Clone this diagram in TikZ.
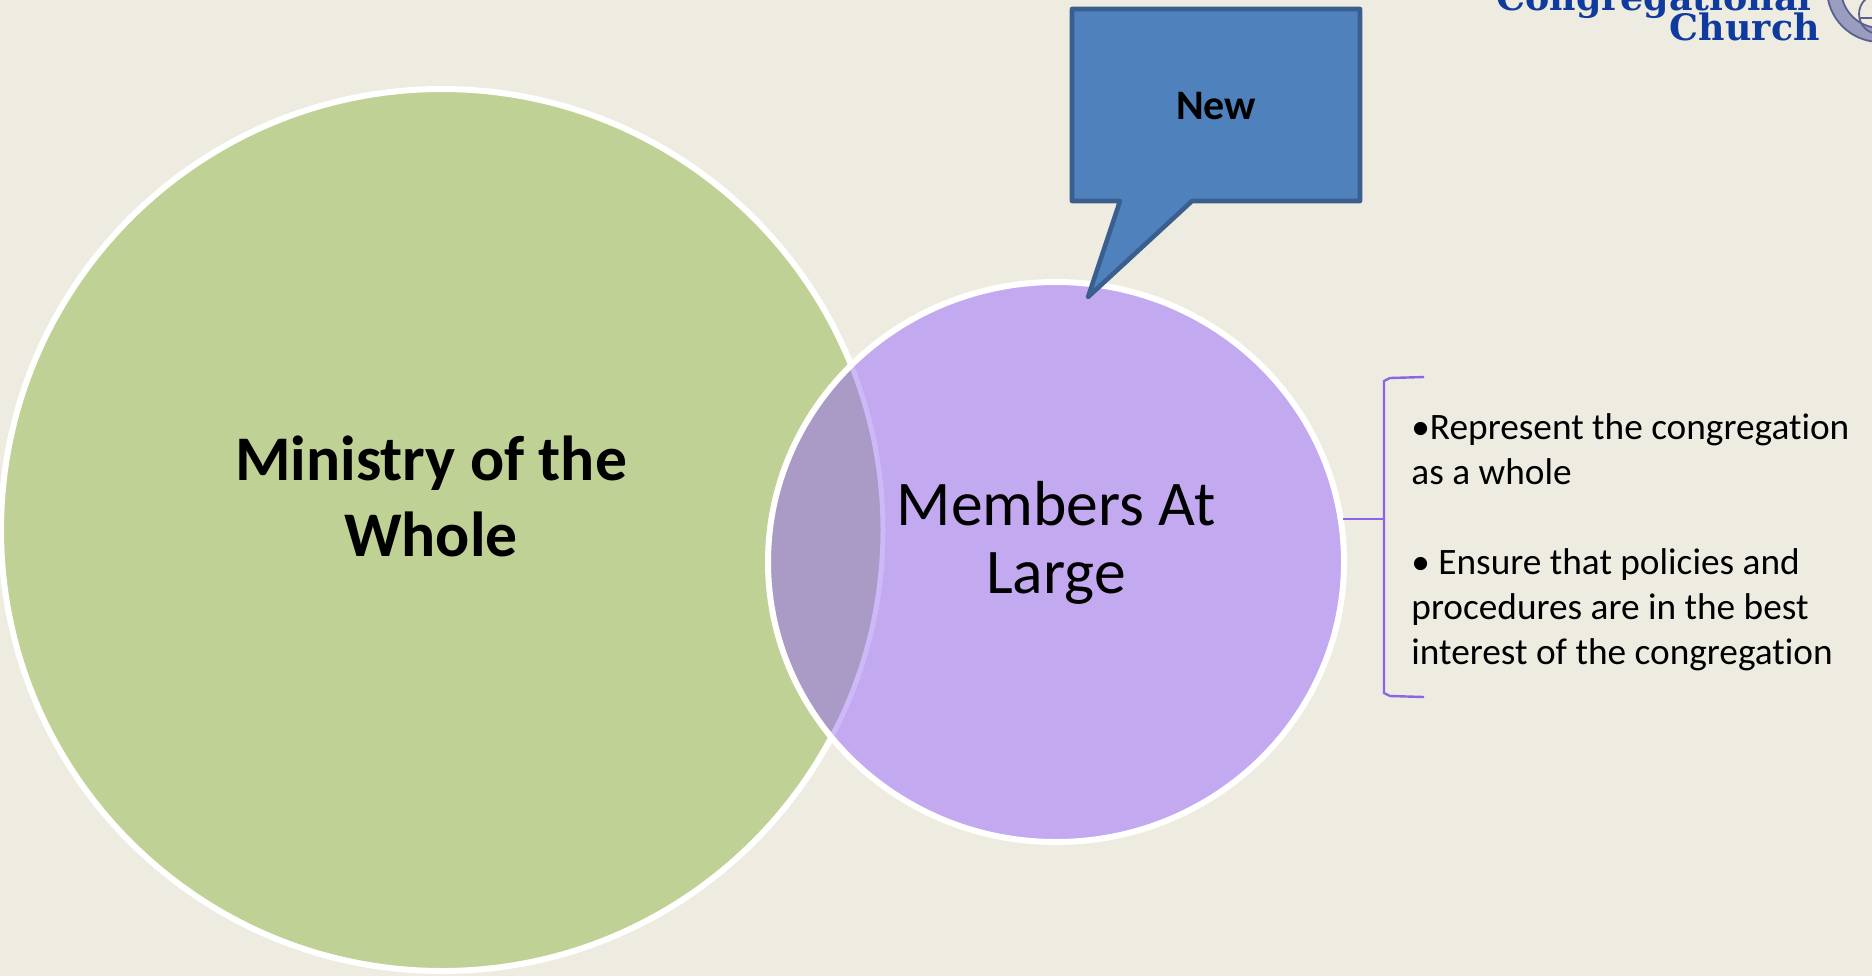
\documentclass[tikz,border=0pt]{standalone}
\usepackage{fontspec}
\setmainfont{Carlito}[Ligatures=NoCommon]
\newfontfamily\logofont{DejaVu Serif}
\definecolor{bgc}{HTML}{EEECE1}
\definecolor{greenc}{HTML}{BFD194}
\definecolor{purplec}{HTML}{C2A9F0}
\definecolor{lensc}{HTML}{A99BC5}
\definecolor{lensline}{HTML}{CDB8F8}
\definecolor{bluec}{HTML}{4F81BD}
\definecolor{blueline}{HTML}{3A5F8F}
\definecolor{bracketc}{HTML}{8B64E8}
\definecolor{logoc}{HTML}{0F3A9E}
\definecolor{sealc}{HTML}{9A9DBE}
\definecolor{sealdark}{HTML}{5C6090}
\tikzset{
  venntext/.style={align=center, inner sep=0pt},
  logotext/.style={font=\logofont\bfseries\fontsize{18.2}{20}\selectfont, text=logoc, anchor=base east, inner sep=0pt},
  bracketline/.style={draw=bracketc, line width=1.2pt},
}
\begin{document}
\begin{tikzpicture}[x=0.5pt,y=-0.5pt]
\useasboundingbox (0,0) rectangle (1872,976);
\fill[bgc] (0,0) rectangle (1872,976);
\begin{scope}
\clip (0,0) rectangle (1872,976);
% logo
\node[logotext] (logoa) at (1812,10) {Congregational};
\node[logotext] (logob) at (1820,40) {Church};
\draw[sealc, line width=7pt] (1880,-11) circle[radius=46];
\draw[sealdark, line width=0.9pt] (1880,-11) circle[radius=53];
\draw[sealdark, line width=0.9pt] (1880,-11) circle[radius=39];
\draw[sealdark, line width=0.9pt] (1879,14) circle[radius=20];
\draw[sealdark, line width=0.9pt] (1859,18) -- (1872,18);
% venn
\path[fill=greenc, draw=white, line width=3pt] (442,530) circle[radius=441];
\path[fill=purplec] (1056,562) ellipse[x radius=288, y radius=280];
\begin{scope}
\clip (1056,562) ellipse[x radius=288, y radius=280];
\path[fill=lensc, draw=lensline, line width=2.5pt] (442,530) circle[radius=441];
\end{scope}
\draw[white, line width=3pt] (1056,562) ellipse[x radius=288, y radius=280];
\end{scope}
\node[venntext, font=\bfseries\fontsize{31.8}{38}\selectfont] (whole) at (431,496) {Ministry of the\\Whole};
\node[venntext, font=\fontsize{31.8}{34}\selectfont] (members) at (1056,543) {Members At\\Large};
% callout
\path[fill=bluec, draw=blueline, line width=2.3pt, line join=round]
  (1072,9) -- (1360,9) -- (1360,201) -- (1192,201) -- (1088,297) -- (1120,201) -- (1072,201) -- cycle;
\node[font=\bfseries\fontsize{21}{24}\selectfont, inner sep=0pt] (new) at (1216,106) {New};
% bracket
\coordinate (bstart) at (1343,519);
\coordinate (bmid) at (1384,519);
\coordinate (btop) at (1424,377);
\coordinate (bbot) at (1424,697);
\draw[bracketline] (btop) -- (1390,378) -- (1384,381) -- (1384,515) -- (bmid) -- (1384,523) -- (1384,693) -- (1390,696) -- (bbot);
\draw[bracketline] (bstart) -- (1376,519) -- (bmid);
% text
\node[anchor=north west, align=left, inner sep=0pt, font=\fontsize{18.65}{22.5}\selectfont] (txt) at (1411,413)
 {•Represent the congregation\\as a whole\\[22.5pt]• Ensure that policies and\\procedures are in the best\\interest of the congregation};
\end{tikzpicture}
\end{document}
